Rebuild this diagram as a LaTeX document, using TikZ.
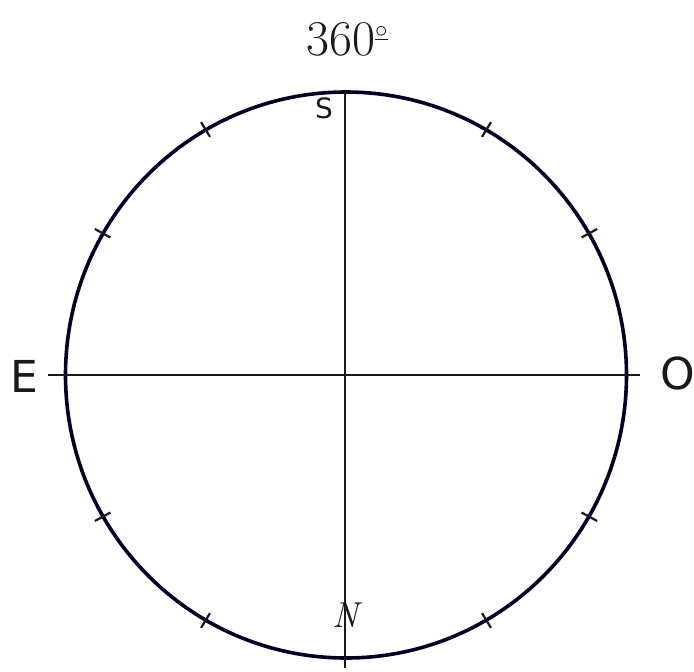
\documentclass[tikz,border=0pt]{standalone}
\usepackage{fontspec}
\usetikzlibrary{calc}
\newfontfamily\handfont{DejaVu Sans}
\begin{document}
\begin{tikzpicture}[x=1pt,y=-1pt,
  outline/.style={line width=3.6pt,color=black!85!blue},
  axis/.style={line width=2.8pt,color=black!90},
  tickmark/.style={line width=2.2pt,color=black!90},
  lbl/.style={inner sep=0pt,text=black!90}]
\useasboundingbox (0,0) rectangle (694,672);
\coordinate (c) at (346,375);
\draw[outline] (c) ellipse [x radius=280.5, y radius=283];
\coordinate (top) at (345,92);
\coordinate (bot) at (345,668);
\coordinate (lft) at (48,375);
\coordinate (rgt) at (640,375);
\draw[axis] (top) -- (bot);
\draw[axis] (lft) -- (rgt);
\foreach \a in {30,60,120,150,210,240,300,330}{
  \draw[tickmark] ($(c)+({272*cos(\a)},{-275*sin(\a)})$) -- ($(c)+({290*cos(\a)},{-292*sin(\a)})$);
}
\node[lbl,font=\fontsize{50}{50}\selectfont] (deg) at (347,39) {360{\raisebox{0.35em}{\fontsize{24}{24}\selectfont$\underline{\circ}$}}};
\node[lbl,font=\handfont\fontsize{28}{28}\selectfont] (S) at (324,108) {S};
\node[lbl,font=\handfont\fontsize{44}{44}\selectfont] (E) at (24,376) {E};
\node[lbl,font=\handfont\fontsize{44}{44}\selectfont] (O) at (678,373) {O};
\node[lbl,font=\fontsize{36}{36}\selectfont\itshape] (N) at (346,615) {N};
\end{tikzpicture}
\end{document}
